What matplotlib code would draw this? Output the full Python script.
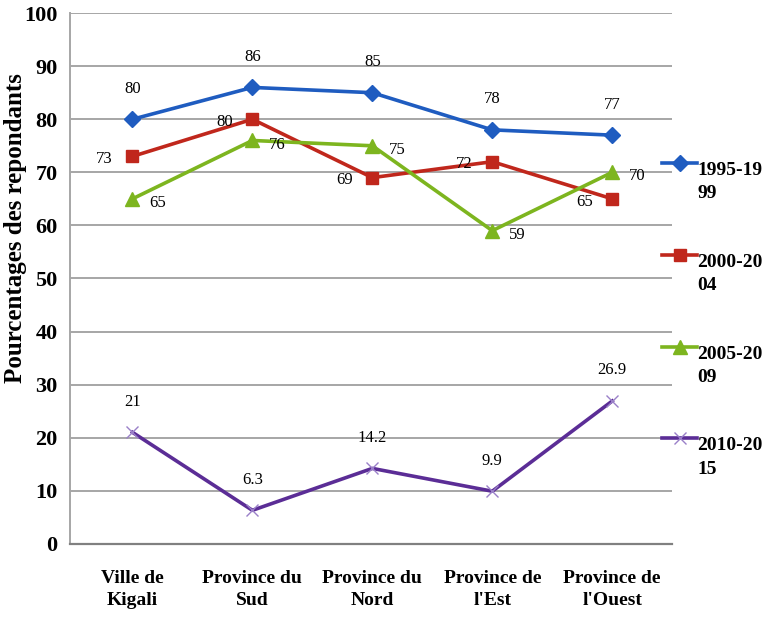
import numpy as np
import matplotlib.pyplot as plt
from matplotlib.lines import Line2D

# data
regions = ["Ville de\nKigali", "Province du\nSud", "Province du\nNord", "Province de\nl'Est", "Province de\nl'Ouest"]
p1995 = [80, 86, 85, 78, 77]
p2000 = [73, 80, 69, 72, 65]
p2005 = [65, 76, 75, 59, 70]
p2010 = [21, 6.3, 14.2, 9.9, 26.9]
labels = ["1995-19\n99", "2000-20\n04", "2005-20\n09", "2010-20\n15"]

plt.rcParams['font.family'] = ['Liberation Serif', 'DejaVu Serif']

W, H = 770, 625
fig = plt.figure(figsize=(W / 100, H / 100), dpi=100)
ax = fig.add_axes([0.091, 0.130, 0.782, 0.849])

x = np.arange(len(regions))

# series: (values, colour, marker, marker size, label offset in points)
series = [
    (p1995, "#1f5cc0", "D", 8, (0, 22)),
    (p2000, "#c0271c", "s", 9, (-20, -2)),
    (p2005, "#7db51f", "^", 10, (18, -3)),
    (p2010, "#5b2d96", "x", 9, (0, 22)),
]

def style(col, mk, ms):
    return dict(color=col, lw=2.6, marker=mk, ms=ms, mew=1,
                mec=col if mk != "x" else "#9a80c8")

for vals, col, mk, ms, off in series:
    ax.plot(x, vals, **style(col, mk, ms))
    for xi, v in zip(x, vals):
        ax.annotate(f"{v:g}", (xi, v), xytext=off, textcoords="offset points",
                    ha="center", va="center", fontsize=12)

ax.set_xlim(-0.52, 4.5)
ax.set_ylim(0, 100)
ax.set_yticks(np.arange(0, 101, 10))
ax.set_xticks(x)
ax.set_xticklabels(regions, fontsize=14, fontweight="bold", linespacing=1.35)
for t in ax.get_yticklabels():
    t.set_fontsize(16)
    t.set_fontweight("bold")
ax.tick_params(axis="y", length=0, pad=9)
ax.tick_params(axis="x", length=0, pad=19)

ax.grid(axis="y", color="#a6a6a6", lw=1.4)
ax.set_axisbelow(True)
for s in ["top", "right"]:
    ax.spines[s].set_visible(False)
ax.spines["left"].set_color("#a6a6a6")
ax.spines["left"].set_linewidth(1.4)
ax.spines["bottom"].set_color("#808080")
ax.spines["bottom"].set_linewidth(1.6)

ax.set_ylabel("Pourcentages des repondants", fontsize=18, fontweight="bold")
ax.yaxis.set_label_coords(-0.071, 0.595)

# legend drawn by hand so the key sits on the first line of each label
leg_y = [168, 260, 352, 443]
for (vals, col, mk, ms, off), lab, yp in zip(series, labels, leg_y):
    yh = 1 - (yp - 5) / H
    fig.add_artist(Line2D([662 / W, 679.5 / W, 697 / W], [yh, yh, yh],
                          transform=fig.transFigure, markevery=[1], **style(col, mk, ms)))
    fig.text(697 / W, 1 - (yp - 6) / H, lab, fontsize=14, fontweight="bold",
             va="top", ha="left", linespacing=1.5)

fig.savefig("out.png", dpi=100)
